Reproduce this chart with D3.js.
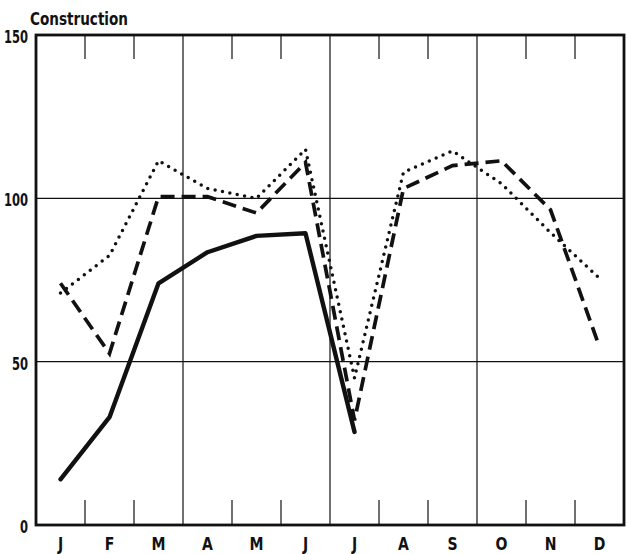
<!DOCTYPE html>
<html>
<head>
<meta charset="utf-8">
<script src="https://cdn.jsdelivr.net/npm/d3@7"></script>
<style>
body { margin: 0; background: #fff; }
svg text { font-family: "DejaVu Sans", sans-serif; font-weight: bold; fill: #111; }
.grid { stroke: #111; stroke-width: 1.2; }
.line { fill: none; stroke: #111; }
</style>
</head>
<body>
<svg width="628" height="554"></svg>
<script>
var svg = d3.select('svg');

//Data.
var months = ['J', 'F', 'M', 'A', 'M', 'J', 'J', 'A', 'S', 'O', 'N', 'D'];
var solid = [14, 33, 74, 83.5, 88.5, 89.3, 28.5, null, null, null, null, null];
var dashed = [74, 52.5, 100.5, 100.5, 95.5, 111, 32, 103, 110, 111.5, 96.5, 54.5];
var dotted = [71, 82.5, 111.5, 103, 100, 115, 45, 108, 114.5, 104.5, 89.5, 75.5];
var yTicks = [0, 50, 100, 150];

//Plot frame (names avoid the window.top global).
var pLeft = 36, pRight = 624, pTop = 35, pBottom = 525;

var idx = d3.range(months.length);
var xBand = d3.scaleBand().domain(idx).range([pLeft, pRight]);
var x = function(i) { return xBand(i) + xBand.bandwidth() / 2; };
var y = d3.scaleLinear().domain([0, 150]).range([pBottom, pTop]);

//Horizontal grid lines at 50 and 100.
svg.append('g').selectAll('line')
	.data([50, 100])
	.join('line')
	.attr('class', 'grid')
	.attr('x1', pLeft).attr('x2', pRight)
	.attr('y1', function(d) { return y(d); })
	.attr('y2', function(d) { return y(d); });

//Month boundaries: full lines between quarters, short ticks otherwise.
var bounds = d3.range(1, months.length);
svg.append('g').selectAll('line')
	.data(bounds.filter(function(b) { return b % 3 == 0; }))
	.join('line')
	.attr('class', 'grid')
	.attr('x1', function(b) { return xBand(b); })
	.attr('x2', function(b) { return xBand(b); })
	.attr('y1', pTop).attr('y2', pBottom);
var minor = bounds.filter(function(b) { return b % 3 != 0; });
svg.append('g').selectAll('line')
	.data(minor)
	.join('line')
	.attr('class', 'grid')
	.attr('x1', function(b) { return xBand(b); })
	.attr('x2', function(b) { return xBand(b); })
	.attr('y1', pTop).attr('y2', pTop + 24);
svg.append('g').selectAll('line')
	.data(minor)
	.join('line')
	.attr('class', 'grid')
	.attr('x1', function(b) { return xBand(b); })
	.attr('x2', function(b) { return xBand(b); })
	.attr('y1', pBottom - 25).attr('y2', pBottom);

//Series lines.
function lineOf(vals) {
	return d3.line()
		.defined(function(d) { return vals[d] != null; })
		.x(function(d) { return x(d); })
		.y(function(d) { return y(vals[d]); })(idx);
}
svg.append('path')
	.attr('class', 'line')
	.attr('d', lineOf(dotted))
	.style('stroke-width', 3.5)
	.style('stroke-linecap', 'round')
	.style('stroke-dasharray', '0,7.5');
svg.append('path')
	.attr('class', 'line')
	.attr('d', lineOf(dashed))
	.style('stroke-width', 3.7)
	.style('stroke-dasharray', '14,7');
svg.append('path')
	.attr('class', 'line')
	.attr('d', lineOf(solid))
	.style('stroke-width', 4.4)
	.style('stroke-linecap', 'round')
	.style('stroke-linejoin', 'round');

//Frame.
svg.append('rect')
	.attr('x', pLeft).attr('y', pTop)
	.attr('width', pRight - pLeft).attr('height', pBottom - pTop)
	.style('fill', 'none')
	.style('stroke', '#111')
	.style('stroke-width', 2.8);

//Axes, drawn as labels only; the print face is narrow, so squeeze the glyphs.
var xAxis = svg.append('g')
	.attr('transform', 'translate(0,' + (pBottom + 12) + ')')
	.call(d3.axisBottom(xBand).tickSize(0).tickPadding(0).tickFormat(function(i) { return months[i]; }));
xAxis.select('.domain').remove();
xAxis.selectAll('text')
	.attr('transform', 'scale(0.78,1)')
	.style('font-size', '18px')
	.style('font-family', null);

var yAxis = svg.append('g')
	.attr('transform', 'translate(' + (pLeft - 8) + ',2)')
	.call(d3.axisLeft(y).tickValues(yTicks).tickSize(0).tickPadding(0));
yAxis.select('.domain').remove();
yAxis.selectAll('text')
	.attr('transform', 'scale(0.68,1)')
	.style('font-size', '17px')
	.style('font-family', null);

//Title.
svg.append('text')
	.attr('x', 30)
	.attr('y', 25)
	.attr('textLength', 98)
	.attr('lengthAdjust', 'spacingAndGlyphs')
	.style('font-size', '17px')
	.text('Construction');
</script>
</body>
</html>
